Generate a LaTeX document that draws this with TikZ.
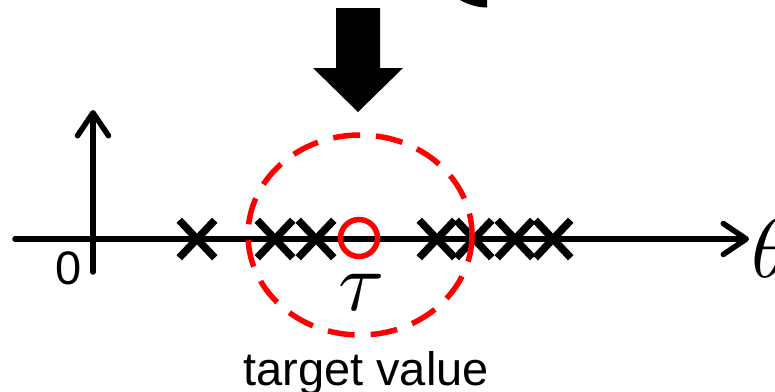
\documentclass[tikz,border=0pt]{standalone}
\usepackage{graphicx}
\usepackage{fontspec}
\setmainfont{Liberation Sans}
\usetikzlibrary{arrows.meta,shapes.misc}
\newcommand{\bigmath}[1]{\scalebox{8.4}{$#1$}}
\begin{document}
\begin{tikzpicture}[x=1pt,y=-1pt,
  axis/.style={line width=5.5pt, line cap=round,
    -{Straight Barb[length=23pt,width=31pt,round]}},
  xmark/.style={cross out, draw, line width=7.5pt,
    minimum width=28pt, minimum height=30pt, inner sep=0pt},
  target/.style={circle, draw=red, line width=5.5pt,
    minimum size=37pt, inner sep=0pt},
  region/.style={draw=red, line width=5.5pt, dash pattern=on 27pt off 16pt},
  sanslabel/.style={inner sep=0pt, font=\fontsize{47}{50}\selectfont},
  mathlabel/.style={inner sep=0pt, font=\fontsize{10}{12}\selectfont}]
\useasboundingbox (0,0) rectangle (775,391);

% big downward arrow
\fill (336,8) -- (380,8) -- (380,68) -- (403,68) -- (358,112)
  -- (313,68) -- (336,68) -- cycle;
% tail of a curved shape leaving the top edge
\fill (460,0) .. controls (469,5) and (478,7.5) .. (487,7.5) -- (487,0) -- cycle;

% axes
\coordinate (xstart) at (15,239);
\coordinate (xend) at (749,239);
\coordinate (ystart) at (93,272);
\coordinate (yend) at (93,110);
\draw[axis] (xstart) -- (xend);
\draw[axis] (ystart) -- (yend);

% samples on the axis
\foreach \n/\x in {a/197,b/275,c/316,d/437,e/474,f/515,g/553}
  \node[xmark] (s\n) at (\x,239) {};

% target value and its neighbourhood
\node[target] (tau) at (359,238) {};
\draw[region] (360,235) ellipse [x radius=112, y radius=100];

% labels
\node[sanslabel] (zero) at (69,268) {0};
\node[mathlabel, anchor=base] (taulabel) at (362,310) {\bigmath{\tau}};
\node[mathlabel, anchor=base west] (theta) at (751,277) {\bigmath{\theta}};
\node[sanslabel, anchor=base] (tv) at (366,385) {target value};
\end{tikzpicture}
\end{document}
